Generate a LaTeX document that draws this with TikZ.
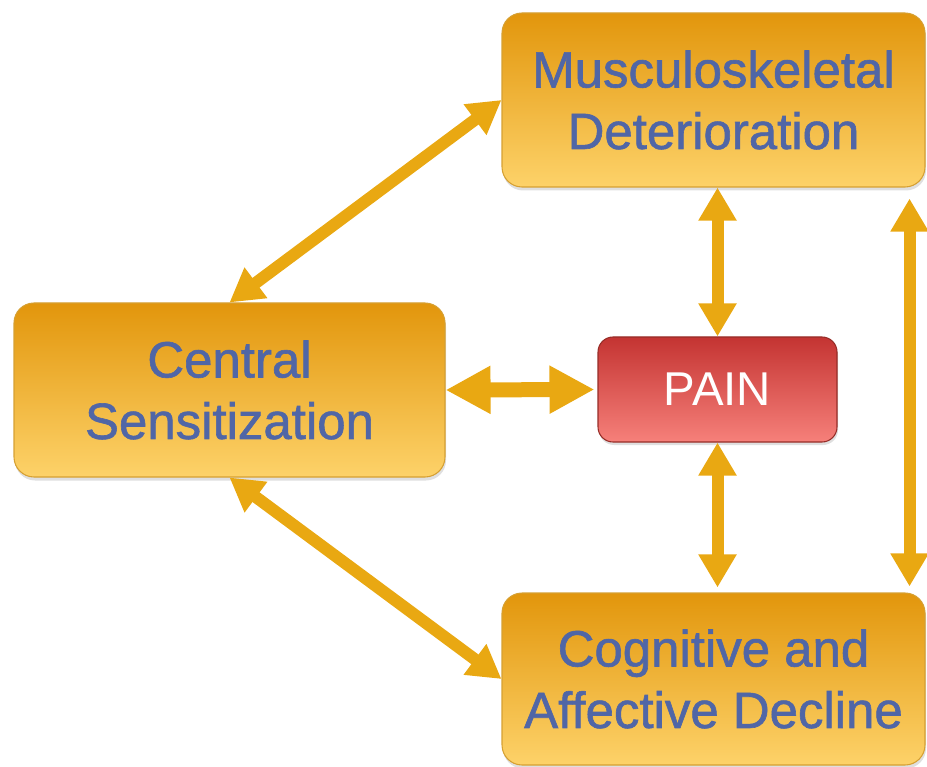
\documentclass[tikz,border=0pt]{standalone}
\usepackage{fontspec}
\setmainfont{Liberation Sans}
\newfontface\labelface{Liberation Sans}[FakeBold=1.2]
\usetikzlibrary{positioning,arrows.meta,shadows}

\definecolor{boxtop}{RGB}{226,150,12}
\definecolor{boxmid}{RGB}{244,184,48}
\definecolor{boxbot}{RGB}{253,210,105}
\definecolor{boxline}{RGB}{214,160,50}
\definecolor{paintop}{RGB}{196,52,50}
\definecolor{painbot}{RGB}{246,128,122}
\definecolor{painline}{RGB}{150,45,40}
\definecolor{labelblue}{RGB}{80,102,166}
\definecolor{linkgold}{RGB}{233,168,18}

\begin{document}
\begin{tikzpicture}[
    box/.style = { draw = boxline, line width = .6pt, rounded corners = .4cm,
      top color = boxtop, middle color = boxmid, bottom color = boxbot,
      minimum width = 8.46cm, minimum height = 3.48cm, inner sep = 0pt,
      align = center, text = labelblue, font = \labelface\fontsize{29}{35}\selectfont,
      drop shadow={opacity=.25,shadow xshift=.02cm,shadow yshift=-.07cm} },
    painbox/.style = { draw = painline, line width = .6pt, rounded corners = .3cm,
      top color = paintop, bottom color = painbot,
      minimum width = 4.78cm, minimum height = 2.1cm, inner sep = 0pt,
      text = white, font = \fontsize{27}{32}\selectfont,
      drop shadow={opacity=.25,shadow xshift=.02cm,shadow yshift=-.06cm} },
    link/.style = { draw = linkgold, line width = .24cm,
      {Triangle[length = .66cm, width = .72cm]}-{Triangle[length = .66cm, width = .72cm]} },
    widelink/.style = { draw = linkgold, line width = .3cm,
      {Triangle[length = .9cm, width = .9cm]}-{Triangle[length = .9cm, width = .9cm]} }
  ]
  \useasboundingbox (0,0) rectangle (18.54,-15.34);

  % boxes
  \node [box] (musc) at (14.27,-2.0) { Musculoskeletal \\ Deterioration };
  \node [box, minimum width = 8.62cm] (central) at (4.59,-7.8) { Central \\ Sensitization };
  \node [painbox] (pain) at (14.35,-7.79) { PAIN };
  \node [box, minimum height = 3.44cm] (cog) at (14.27,-13.58) { Cognitive and \\ Affective Decline };

  % links
  \draw [link] (central.north) -- (musc.west);
  \draw [link] (central.south) -- (cog.west);
  \draw [widelink, shorten > = .06cm] (central.east) -- (pain.west);
  \draw [link] (pain.north |- musc.south) -- (pain.north);
  \draw [link, shorten > = .1cm] (pain.south) -- (pain.south |- cog.north);
  \draw [link, shorten < = .22cm, shorten > = .12cm]
    ([xshift = -.32cm] musc.south east) -- ([xshift = -.32cm] cog.north east);
\end{tikzpicture}
\end{document}
